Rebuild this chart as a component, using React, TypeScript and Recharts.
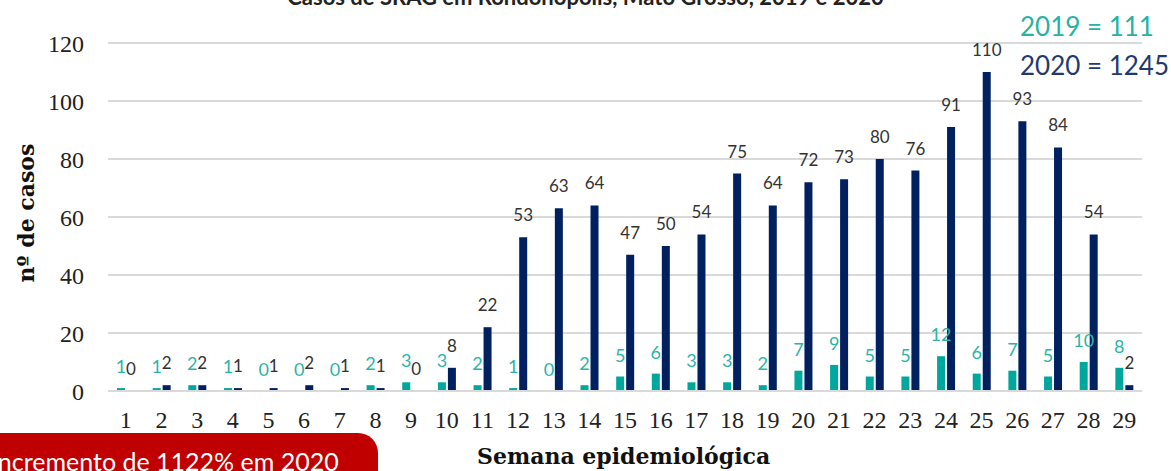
import { BarChart, Bar, XAxis, YAxis, CartesianGrid, LabelList } from 'recharts';

const semanas = ['1', '2', '3', '4', '5', '6', '7', '8', '9', '10', '11', '12', '13', '14', '15', '16', '17', '18', '19', '20', '21', '22', '23', '24', '25', '26', '27', '28', '29'];
const casos2019 = [1, 1, 2, 1, 0, 0, 0, 2, 3, 3, 2, 1, 0, 2, 5, 6, 3, 3, 2, 7, 9, 5, 5, 12, 6, 7, 5, 10, 8];
const casos2020 = [0, 2, 2, 1, 1, 2, 1, 1, 0, 8, 22, 53, 63, 64, 47, 50, 54, 75, 64, 72, 73, 80, 76, 91, 110, 93, 84, 54, 2];
const yTicks = [0, 20, 40, 60, 80, 100, 120];

const data = semanas.map((s, i) => ({ semana: s, a2019: casos2019[i], a2020: casos2020[i] }));

const serif = '"Liberation Serif", serif';
const sans = 'Lato, "Noto Sans", sans-serif';

// zero values still need their label, so draw the labels ourselves
const makeLabel = (color: string, size: number, gap: number) => (props: any) => {
    const { x, y, width, value } = props;
    return (
        <text x={Number(x) + Number(width) / 2} y={Number(y) - gap} textAnchor="middle" fill={color} fontSize={size} fontFamily={sans}>
            {value}
        </text>
    );
};

const App = () => {
    return (
        <div style={{ position: 'fixed', left: 0, top: 0, width: 1171, height: 471, overflow: 'hidden', background: '#fff' }}>
            <div style={{ position: 'absolute', left: 0, width: 1171, top: -17, textAlign: 'center', fontFamily: sans, fontWeight: 700, fontSize: 22, color: '#222', whiteSpace: 'nowrap' }}>
                Casos de SRAG em Rondonópolis, Mato Grosso, 2019 e 2020
            </div>
            <BarChart width={1171} height={471} data={data} margin={{ top: 43, right: 29, left: 48, bottom: 0 }} barSize={8} barGap={2}>
                <CartesianGrid vertical={false} stroke="#d9d9d9" strokeWidth={2} />
                <XAxis
                    dataKey="semana"
                    axisLine={{ stroke: '#d9d9d9', strokeWidth: 2 }}
                    tickLine={false}
                    tickSize={0}
                    tickMargin={20}
                    height={80}
                    interval={0}
                    tick={{ fontSize: 24, fill: '#222', fontFamily: serif }}
                />
                <YAxis
                    domain={[0, 120]}
                    ticks={yTicks}
                    axisLine={false}
                    tickLine={false}
                    tickSize={0}
                    tickMargin={24}
                    width={60}
                    tick={{ fontSize: 24, fill: '#222', fontFamily: serif }}
                />
                <Bar dataKey="a2019" fill="#00a79d" minPointSize={0.01} isAnimationActive={false}>
                    <LabelList dataKey="a2019" content={makeLabel('#2bb5a8', 18, 15)} />
                </Bar>
                <Bar dataKey="a2020" fill="#002060" minPointSize={0.01} isAnimationActive={false}>
                    <LabelList dataKey="a2020" content={makeLabel('#333', 17, 16)} />
                </Bar>
            </BarChart>
            <div style={{ position: 'absolute', left: 6, top: 213, transform: 'translate(-50%, -50%) rotate(-90deg)', transformOrigin: 'center', marginLeft: 20, fontFamily: '"DejaVu Serif", serif', fontWeight: 700, fontSize: 22, color: '#111', whiteSpace: 'nowrap' }}>
                nº de casos
            </div>
            <div style={{ position: 'absolute', left: 477, top: 443, fontFamily: '"DejaVu Serif", serif', fontWeight: 700, fontSize: 22, color: '#111', whiteSpace: 'nowrap' }}>
                Semana epidemiológica
            </div>
            <div style={{ position: 'absolute', left: 1020, top: 10, fontFamily: sans, fontSize: 26, color: '#26b2a5', whiteSpace: 'nowrap' }}>
                2019 = 111
            </div>
            <div style={{ position: 'absolute', left: 1020, top: 49, fontFamily: sans, fontSize: 26, color: '#1f3a6e', whiteSpace: 'nowrap' }}>
                2020 = 1245
            </div>
            <div style={{ position: 'absolute', left: -40, top: 433, width: 418, height: 60, background: '#c00000', borderTopRightRadius: 20, borderTopLeftRadius: 20 }}>
                <div style={{ position: 'absolute', left: 31, top: 13, fontFamily: sans, fontSize: 25, color: '#fff', whiteSpace: 'nowrap' }}>
                    Incremento de 1122% em 2020
                </div>
            </div>
        </div>
    );
};

export default App;
